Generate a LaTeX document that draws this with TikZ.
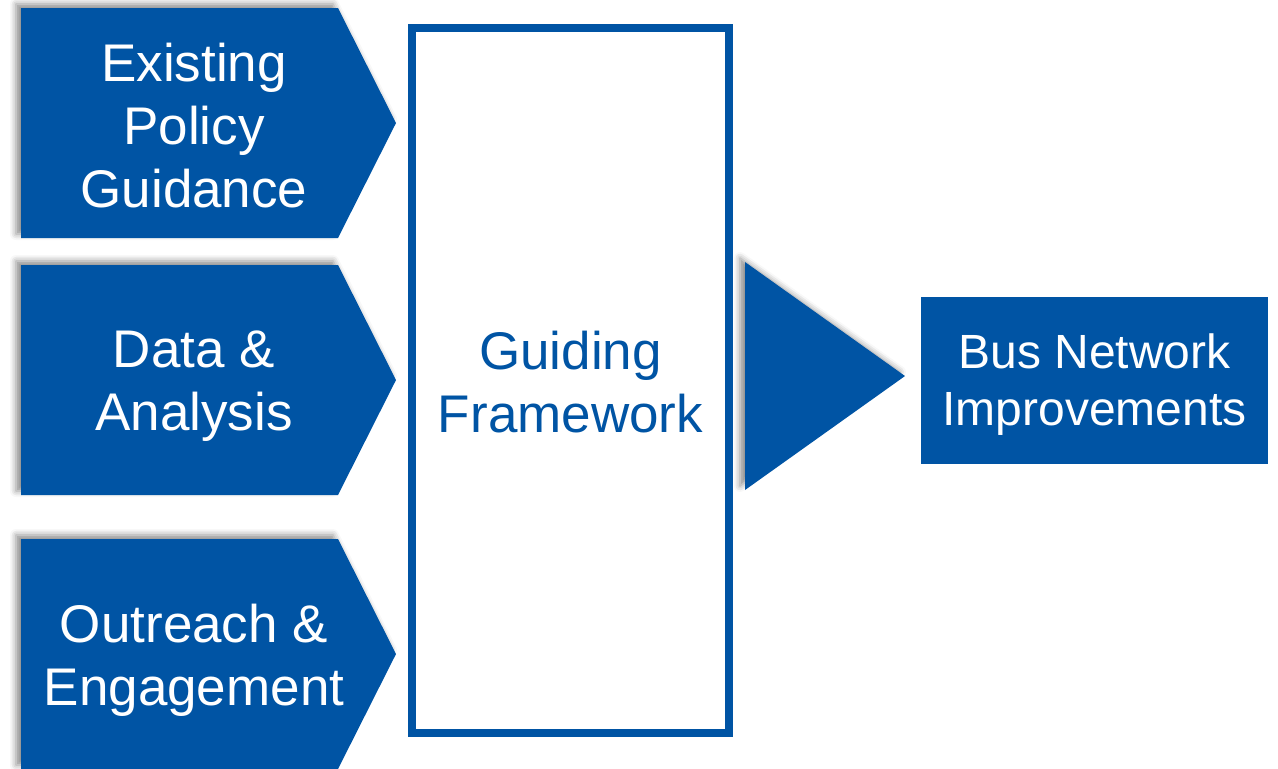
\documentclass[tikz,border=0pt]{standalone}
\usepackage{fontspec}
\setmainfont{Liberation Sans}
\usetikzlibrary{shadows.blur}
\definecolor{busBlue}{RGB}{0,84,164}
\newcommand{\chevronpath}[1]{(21,#1) -- (338,#1) -- (396,#1+115) -- (338,#1+230) -- (21,#1+230) -- cycle}
\tikzset{softshadow/.style={blur shadow={shadow xshift=-2.5pt, shadow yshift=2pt, shadow blur radius=3pt, shadow opacity=45}}}

\begin{document}
\begin{tikzpicture}[x=0.5pt, y=-0.5pt,
		chevrontext/.style={text=white, align=center, font=\fontsize{26.5}{31.5}\selectfont},
		frametext/.style={text=busBlue, align=center, font=\fontsize{26.5}{31.5}\selectfont}]
		\useasboundingbox (0,0) rectangle (1278,768);
		
		% input chevrons
		\fill[busBlue, softshadow] \chevronpath{8};
		\fill[busBlue, softshadow] \chevronpath{265};
		\fill[busBlue, softshadow] \chevronpath{539};
		\node[chevrontext] (policy) at (194,126) {Existing\\Policy\\Guidance};
		\node[chevrontext] (data) at (194,386) {Data \&\\Analysis};
		\node[chevrontext] (outreach) at (194,660) {Outreach \&\\Engagement};
		
		% framework box
		\node[draw=busBlue, line width=4pt, minimum width=158.5pt, minimum height=352.5pt, inner sep=0pt] (frame) at (570.5,380.5) {};
		\node[frametext] (framework) at (570.5,382) {Guiding\\Framework};
		
		% big arrow head
		\fill[busBlue, softshadow] (745,262) -- (905,376) -- (745,490) -- cycle;
		
		% result
		\node[fill=busBlue, minimum width=173.5pt, minimum height=83.5pt, inner sep=0pt,
			text=white, align=center, font=\fontsize{24}{28.5}\selectfont] (improvements) at (1094.5,380.5) {};
		\node[text=white, align=center, font=\fontsize{24}{28.5}\selectfont] (busnet) at (1094.5,385) {Bus Network\\Improvements};
	\end{tikzpicture}
\end{document}
